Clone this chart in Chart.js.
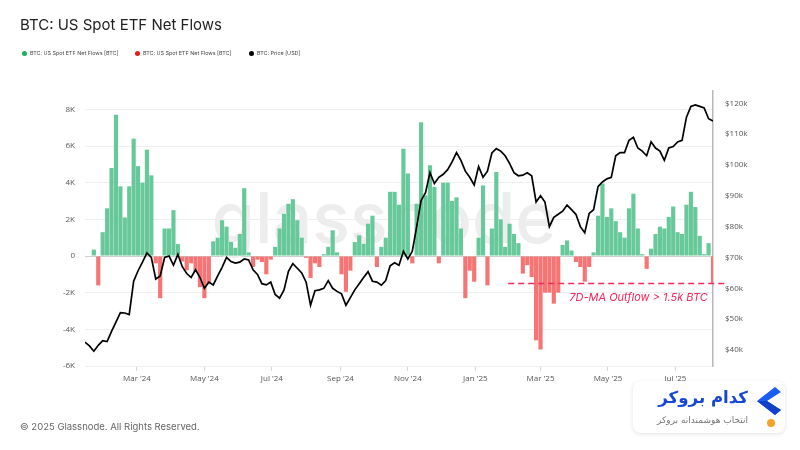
<!DOCTYPE html>
<html>
<head>
<meta charset="utf-8">
<script src="https://cdn.jsdelivr.net/npm/chart.js@4.4.1/dist/chart.umd.min.js"></script>
<style>
  html, body { margin: 0; padding: 0; background: #fff; }
  body { width: 800px; height: 450px; position: relative; overflow: hidden; font-family: Inter, "Noto Sans", sans-serif; }
  #c { position: absolute; left: 0; top: 0; }
  #title { position: absolute; left: 20px; top: 16px; font-size: 15px; line-height: 18px; color: #1e1e1e; white-space: nowrap; }
  .lg { position: absolute; top: 50px; font-size: 5.4px; line-height: 7px; color: #444; white-space: nowrap; }
  .lg i { display: inline-block; width: 5px; height: 5px; border-radius: 50%; margin-right: 3px; vertical-align: -0.5px; }
  #footer { position: absolute; left: 20px; top: 421px; font-size: 9.5px; line-height: 12px; color: #666; white-space: nowrap; }
  #logo { position: absolute; left: 633px; top: 381px; width: 152px; height: 52px; background: #fff; border-radius: 8px; box-shadow: 0 1px 4px rgba(0,0,0,0.12); }
  #logo .t1 { position: absolute; right: 37px; top: 6px; font-family: "DejaVu Sans", sans-serif; font-weight: bold; font-size: 16.6px; line-height: 22px; color: #1747d6; white-space: nowrap; }
  #logo .t2 { position: absolute; right: 37px; top: 33px; font-family: "DejaVu Sans", sans-serif; font-size: 9px; line-height: 12px; color: #777; white-space: nowrap; }
  #logo svg { position: absolute; left: 120px; top: 4px; }
</style>
</head>
<body>
<canvas id="c" width="800" height="450"></canvas>
<div id="title">BTC: US Spot ETF Net Flows</div>
<div class="lg" style="left:22px"><i style="background:#1fae5f"></i>BTC: US Spot ETF Net Flows [BTC]</div>
<div class="lg" style="left:135px"><i style="background:#e81c1c"></i>BTC: US Spot ETF Net Flows [BTC]</div>
<div class="lg" style="left:249px"><i style="background:#000"></i>BTC: Price [USD]</div>
<div id="footer">© 2025 Glassnode. All Rights Reserved.</div>
<div id="logo">
  <span class="t1" dir="rtl">کدام بروکر</span>
  <span class="t2" dir="rtl">انتخاب هوشمندانه بروکر</span>
  <svg width="30" height="46" viewBox="0 0 30 46">
    <polygon points="22,2 4,16 22,30 28,25 14,16 28,7" fill="#1a5ef0"/>
    <polygon points="4,16 22,30 28,25 14,16" fill="#1240c8"/>
    <circle cx="18" cy="38" r="4" fill="#f7a325"/>
  </svg>
</div>
<script>
// ---- sampling of the series: one value every STEP_DAYS days from START_DATE
const START_DATE = '2024-01-14';
const STEP_DAYS = 4;

// 7D-MA US spot ETF net flows [BTC]
const flows = [
  0, 0, 350, -1600, 1300, 2600, 4800, 7700, 3800, 2100,
  3800, 6400, 4900, 4000, 5800, 4400, -400, -2300, 1500, 1500,
  2500, 650, -300, -780, -400, -870, -1700, -2300, -1500, 800,
  1000, 1950, 1600, 770, 450, 1200, 3700, 200, -600, -200,
  -330, -1000, -200, 500, 1500, 2300, 2850, 3100, 1950, 1000,
  -100, -1200, -400, -600, 100, 500, 1400, 200, -1000, -1950,
  -800, 760, 1130, 670, 1760, 2200, -600, 500, 1000, 3500,
  3500, 2800, 5850, 4500, -400, 2850, 7300, 3300, 4950, 3770,
  -400, 4000, 4000, 3000, 3200, 1500, -2300, -800, -1400, 1000,
  3850, -1600, 1500, 4580, 2000, 500, 1760, 1200, 700, -960,
  -500, -1150, -4600, -5100, -2000, -2000, -2600, -2000, 600, 850,
  300, -330, -600, -1400, -600, 200, 2200, 3950, 2130, 2600,
  1900, 1300, 1000, 2600, 3400, 1500, 100, -700, 400, 1200,
  1600, 1500, 2130, 2700, 1300, 1200, 2800, 3500, 2670, 1100,
  100, 700, -1500
];

// BTC price [USD]
const prices = [
  42500, 41300, 39600, 41500, 43000, 42700, 46000, 49000, 52100, 52000,
  51500, 62300, 65700, 68500, 71500, 70000, 63000, 64000, 70000, 70500,
  67500, 71000, 67000, 64800, 63500, 66000, 63500, 60000, 62000, 61100,
  64000, 66800, 70000, 68700, 68200, 68500, 69500, 69200, 66000, 64500,
  61500, 61100, 62000, 58000, 56800, 59500, 65500, 68000, 66500, 65000,
  62000, 54500, 59200, 59500, 60000, 62500, 60000, 59000, 58200, 54500,
  57000, 59500, 61500, 63500, 65400, 62300, 62000, 61000, 62500, 67300,
  68300, 67500, 72000, 69500, 72000, 80000, 88500, 91000, 97500, 94000,
  96000, 97000, 98500, 101000, 104000, 101500, 98000, 96000, 93500, 99500,
  96000, 98000, 103900, 105300, 104500, 103000, 100500, 97500, 96500, 96700,
  97500, 96500, 88000, 90000, 88000, 80000, 83000, 84000, 85000, 87000,
  85500, 84000, 80000, 78000, 84300, 85500, 93000, 94500, 95500, 96000,
  103000, 104000, 104000, 108000, 109000, 105500, 104500, 103000, 107500, 105500,
  104500, 101500, 105500, 106000, 107500, 108000, 115500, 119000, 119500, 119000,
  118500, 115000, 114300
];

// axis ticks
const tickDates = ['2024-03-01','2024-05-01','2024-07-01','2024-09-01','2024-11-01','2025-01-01','2025-03-01','2025-05-01','2025-07-01'];
const tickLabels = ["Mar '24","May '24","Jul '24","Sep '24","Nov '24","Jan '25","Mar '25","May '25","Jul '25"];
const flowTicks = [-6000, -4000, -2000, 0, 2000, 4000, 6000, 8000];
const priceTicks = [40000, 50000, 60000, 70000, 80000, 90000, 100000, 110000, 120000];

// annotation (threshold in BTC, span in sample index)
const annot = { value: -1500, from: 95.7, to: 145.2, text: '7D-MA Outflow > 1.5k BTC', textAt: 109.5, textValue: -2250 };

const DAY = 86400000;
const tickPos = tickDates.map(d => (Date.parse(d) - Date.parse(START_DATE)) / DAY / STEP_DAYS);

const flowData = flows.map((v, i) => ({ x: i, y: v }));
const priceData = prices.map((v, i) => ({ x: i, y: v }));

const GREEN = 'rgb(103,201,153)';
const RED = 'rgb(246,116,116)';

const watermark = {
  id: 'watermark',
  beforeDatasetsDraw(chart) {
    const { ctx, chartArea: a } = chart;
    ctx.save();
    ctx.font = '500 70px Inter, "Noto Sans", sans-serif';
    ctx.fillStyle = '#ededed';
    ctx.textAlign = 'center';
    ctx.textBaseline = 'alphabetic';
    ctx.fillText('glassnode', (a.left + a.right) / 2 - 15, a.top + 152);
    ctx.restore();
  }
};

const annotation = {
  id: 'annotation',
  afterDatasetsDraw(chart) {
    const { ctx } = chart;
    const x = chart.scales.x, y = chart.scales.y;
    const yy = y.getPixelForValue(annot.value);
    ctx.save();
    ctx.strokeStyle = '#f2285a';
    ctx.lineWidth = 1.5;
    ctx.setLineDash([6, 4]);
    ctx.beginPath();
    ctx.moveTo(x.getPixelForValue(annot.from), yy);
    ctx.lineTo(x.getPixelForValue(annot.to), yy);
    ctx.stroke();
    ctx.setLineDash([]);
    ctx.font = 'italic 11px Inter, "Noto Sans", sans-serif';
    ctx.fillStyle = '#f2285a';
    ctx.textAlign = 'left';
    ctx.textBaseline = 'middle';
    ctx.fillText(annot.text, x.getPixelForValue(annot.textAt), y.getPixelForValue(annot.textValue));
    ctx.restore();
  }
};

const tickFont = { family: '"Open Sans", "Noto Sans", sans-serif', size: 8 };

new Chart(document.getElementById('c'), {
  type: 'bar',
  data: {
    datasets: [
      { label: 'BTC: US Spot ETF Net Flows [BTC]', data: flowData,
        backgroundColor: c => (c.raw && c.raw.y < 0) ? RED : GREEN,
        borderWidth: 0, barPercentage: 0.94, categoryPercentage: 1, yAxisID: 'y', order: 2 },
      { type: 'line', label: 'BTC: Price [USD]', data: priceData, borderColor: '#000', borderWidth: 1.7, pointRadius: 0, tension: 0, yAxisID: 'y1', order: 1 }
    ]
  },
  options: {
    responsive: false,
    animation: false,
    layout: { padding: { top: 91, left: 0, right: 0, bottom: 54 } },
    plugins: { legend: { display: false }, tooltip: { enabled: false }, title: { display: false } },
    scales: {
      x: {
        type: 'linear', min: 0, max: flows.length - 1, offset: false,
        afterBuildTicks: s => { s.ticks = tickPos.map(v => ({ value: v })); },
        afterFit: s => { s.height = 30; },
        ticks: { autoSkip: false, maxRotation: 0, padding: 3, color: '#555', font: tickFont, callback: (v, i) => tickLabels[i] },
        grid: { drawOnChartArea: false, drawTicks: true, tickLength: 5, color: '#d8d8d8', offset: false },
        border: { display: false }
      },
      y: {
        position: 'left', min: -6000, max: 9000,
        afterBuildTicks: s => { s.ticks = flowTicks.map(v => ({ value: v })); },
        afterFit: s => { s.width = 85; },
        ticks: { padding: 10, color: '#555', font: tickFont, callback: v => v === 0 ? '0' : (v / 1000) + 'K' },
        grid: { drawTicks: false, color: c => (c.tick && c.tick.value === 0) ? '#cfcfcf' : '#efefef', lineWidth: 1 },
        border: { display: false }
      },
      y1: {
        position: 'right', min: 34800, max: 124000,
        afterBuildTicks: s => { s.ticks = priceTicks.map(v => ({ value: v })); },
        afterFit: s => { s.width = 87; },
        ticks: { padding: 12, color: '#555', font: tickFont, callback: v => '$' + (v / 1000) + 'k' },
        grid: { drawOnChartArea: false, drawTicks: false },
        border: { display: true, color: '#b8b8b8', width: 1.5 }
      }
    }
  },
  plugins: [watermark, annotation]
});
</script>
</body>
</html>
